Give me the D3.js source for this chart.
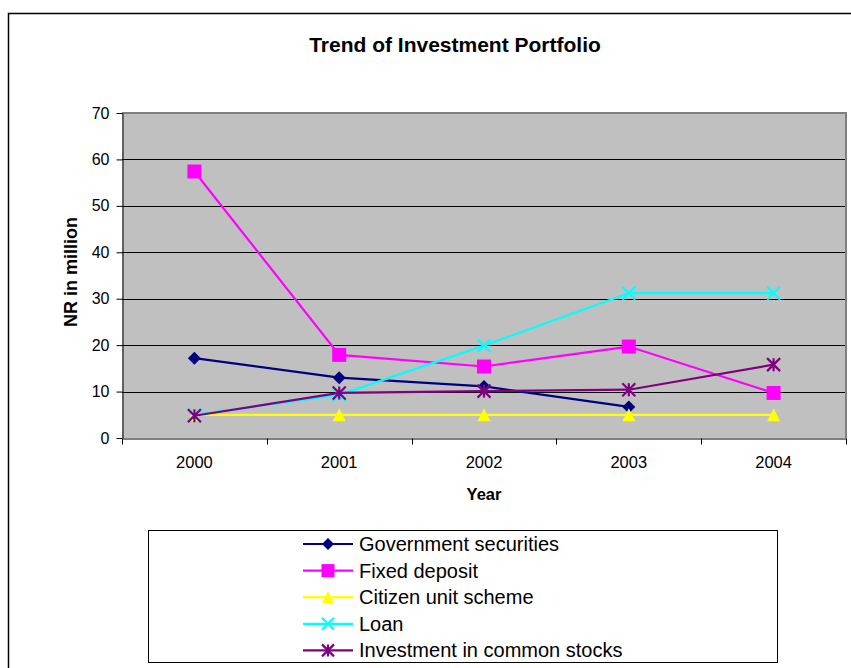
<!DOCTYPE html>
<html>
<head>
<meta charset="utf-8">
<script src="https://cdn.jsdelivr.net/npm/d3@7"></script>
<style>
  html, body { margin: 0; padding: 0; background: #fff; }
  svg { display: block; font-family: "Liberation Sans", Arial, sans-serif; }
</style>
</head>
<body>
<svg id="chart" width="851" height="668"></svg>
<script>
// Investment portfolio, NR in million, by year
const years = ["2000", "2001", "2002", "2003", "2004"];
const governmentSecurities = [17.2, 13.0, 11.1, 6.7, null];
const fixedDeposit = [57.4, 17.9, 15.4, 19.7, 9.7];
const citizenUnitScheme = [5.0, 5.0, 5.0, 5.0, 5.0];
const loan = [5.0, 9.3, 19.9, 31.2, 31.2];
const commonStocks = [4.8, 9.7, 10.1, 10.4, 15.8];
const yTicks = [0, 10, 20, 30, 40, 50, 60, 70];

const series = [
  { name: "Government securities", values: governmentSecurities, color: "#000080", marker: "diamond" },
  { name: "Fixed deposit", values: fixedDeposit, color: "#FF00FF", marker: "square" },
  { name: "Citizen unit scheme", values: citizenUnitScheme, color: "#FFFF00", marker: "triangle" },
  { name: "Loan", values: loan, color: "#00FFFF", marker: "cross" },
  { name: "Investment in common stocks", values: commonStocks, color: "#800080", marker: "star" }
];

const FONT = "Liberation Sans, Arial, sans-serif";
const svg = d3.select("#chart");

// outer chart frame
svg.append("rect")
  .attr("x", 8.5).attr("y", 13.5)
  .attr("width", 900).attr("height", 700)
  .attr("fill", "#fff").attr("stroke", "#000").attr("stroke-width", 1.5);

svg.append("text")
  .attr("x", 455).attr("y", 52)
  .attr("text-anchor", "middle")
  .attr("font-size", 21).attr("font-weight", "bold")
  .text("Trend of Investment Portfolio");

const plot = { left: 122, right: 846, top: 113, bottom: 438 };

const x = d3.scaleBand().domain(years).range([plot.left, plot.right]);
const y = d3.scaleLinear().domain([0, 70]).range([plot.bottom, plot.top]);

// plot background
svg.append("rect")
  .attr("x", plot.left).attr("y", plot.top)
  .attr("width", plot.right - plot.left).attr("height", plot.bottom - plot.top)
  .attr("fill", "#C0C0C0");

// gridlines
svg.append("g")
  .selectAll("line")
  .data(yTicks.filter(t => t > 0 && t < 70))
  .join("line")
  .attr("x1", plot.left).attr("x2", plot.right)
  .attr("y1", d => Math.round(y(d)) + 0.5).attr("y2", d => Math.round(y(d)) + 0.5)
  .attr("stroke", "#000").attr("stroke-width", 1);

// grey top and right border of the plot area
svg.append("path")
  .attr("d", `M${plot.left},${plot.top} H${plot.right} V${plot.bottom}`)
  .attr("fill", "none").attr("stroke", "#808080").attr("stroke-width", 2);

// y axis
const yAxis = svg.append("g")
  .attr("transform", `translate(${plot.left + 0.5},0)`)
  .call(d3.axisLeft(y).tickValues(yTicks).tickSize(6).tickPadding(7).tickSizeOuter(0));
yAxis.selectAll("text").attr("font-size", 16).attr("fill", "#000").attr("font-family", FONT);
yAxis.selectAll("line, path").attr("stroke", "#000");

// x axis with ticks between categories
const xAxis = svg.append("g")
  .attr("transform", `translate(0,${plot.bottom + 0.5})`)
  .call(d3.axisBottom(x).tickSize(0).tickPadding(18).tickSizeOuter(0));
xAxis.selectAll("text").attr("font-size", 16.5).attr("fill", "#000").attr("font-family", FONT);
xAxis.select("path").attr("stroke", "#000");
xAxis.selectAll(".sep")
  .data(years.map(d => x(d)).concat([plot.right]))
  .join("line")
  .attr("class", "sep")
  .attr("x1", d => Math.round(d) + 0.5).attr("x2", d => Math.round(d) + 0.5)
  .attr("y1", 0).attr("y2", 6)
  .attr("stroke", "#000");

// axis titles
svg.append("text")
  .attr("x", 484).attr("y", 500)
  .attr("text-anchor", "middle")
  .attr("font-size", 16.5).attr("font-weight", "bold")
  .text("Year");

svg.append("text")
  .attr("transform", "translate(77,272) rotate(-90)")
  .attr("text-anchor", "middle")
  .attr("font-size", 18).attr("font-weight", "bold")
  .text("NR in million");

// marker drawing
function drawMarker(g, type, color, s) {
  const h = s / 2;
  if (type === "diamond") {
    g.append("path").attr("d", `M0,${-h} L${h},0 L0,${h} L${-h},0 Z`).attr("fill", color);
  } else if (type === "square") {
    g.append("rect").attr("x", -h).attr("y", -h).attr("width", s).attr("height", s).attr("fill", color);
  } else if (type === "triangle") {
    g.append("path").attr("d", `M0,${-h} L${h},${h} L${-h},${h} Z`).attr("fill", color);
  } else if (type === "cross") {
    g.append("path").attr("d", `M${-h},${-h} L${h},${h} M${h},${-h} L${-h},${h}`)
      .attr("stroke", color).attr("stroke-width", 2.2).attr("fill", "none");
  } else if (type === "star") {
    g.append("path").attr("d", `M${-h},${-h} L${h},${h} M${h},${-h} L${-h},${h} M0,${-h} L0,${h}`)
      .attr("stroke", color).attr("stroke-width", 2.2).attr("fill", "none");
  }
}

const line = d3.line()
  .defined(d => d.v !== null)
  .x(d => x(d.year) + x.bandwidth() / 2)
  .y(d => y(d.v));

series.forEach(s => {
  const pts = years.map((yr, i) => ({ year: yr, v: s.values[i] }));
  const g = svg.append("g");
  g.append("path")
    .datum(pts)
    .attr("d", line)
    .attr("fill", "none")
    .attr("stroke", s.color)
    .attr("stroke-width", 2.2);
  g.selectAll("g.mk")
    .data(pts.filter(d => d.v !== null))
    .join("g")
    .attr("class", "mk")
    .attr("transform", d => `translate(${x(d.year) + x.bandwidth() / 2},${y(d.v)})`)
    .each(function () { drawMarker(d3.select(this), s.marker, s.color, s.marker === "square" ? 14 : 13); });
});

// legend
const legend = svg.append("g");
legend.append("rect")
  .attr("x", 148.5).attr("y", 530.5)
  .attr("width", 629).attr("height", 132)
  .attr("fill", "#fff").attr("stroke", "#000").attr("stroke-width", 1);

series.forEach((s, i) => {
  const ly = 544 + i * 26.6;
  const row = legend.append("g");
  row.append("line")
    .attr("x1", 303).attr("x2", 353)
    .attr("y1", ly).attr("y2", ly)
    .attr("stroke", s.color).attr("stroke-width", 2.2);
  const mg = row.append("g").attr("transform", `translate(328,${ly})`);
  drawMarker(mg, s.marker, s.color, s.marker === "square" ? 13 : 12);
  row.append("text")
    .attr("x", 359).attr("y", ly + 7)
    .attr("font-size", 20)
    .text(s.name);
});
</script>
</body>
</html>
